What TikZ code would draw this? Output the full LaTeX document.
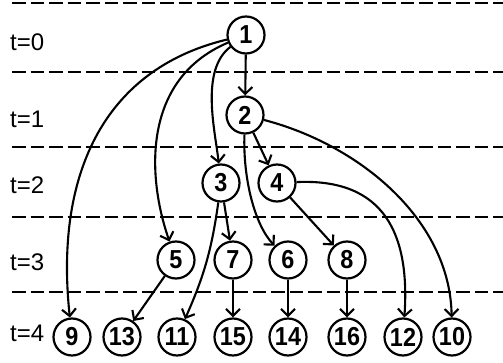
\documentclass[tikz,border=0pt]{standalone}
\usepackage{fontspec}
\setmainfont{Liberation Sans}
\newfontfamily\digitfont[FakeStretch=0.9]{Liberation Sans}
\usetikzlibrary{arrows.meta}
\tikzset{
  state/.style={circle, draw, line width=2.2pt, minimum size=37pt, inner sep=0.5pt,
    font=\digitfont\fontsize{26}{26}\selectfont\bfseries},
  edge/.style={-{Straight Barb[length=7pt,width=14pt]}, line width=2.1pt},
  timeline/.style={line width=2.2pt, dash pattern=on 13.5pt off 5pt},
  tlabel/.style={anchor=west, inner sep=0pt, font=\fontsize{24}{24}\selectfont},
}
\begin{document}
\begin{tikzpicture}[x=1pt, y=-1pt]
\useasboundingbox (0,0) rectangle (503,363);

% time boundaries
\foreach \yy in {3,72,147,217,292}
  \draw[timeline] (12,\yy) -- (503,\yy);

% time step labels
\node[tlabel] (t0) at (10,42) {t=0};
\node[tlabel] (t1) at (10,119) {t=1};
\node[tlabel] (t2) at (10,185) {t=2};
\node[tlabel] (t3) at (10,262) {t=3};
\node[tlabel] (t4) at (10,333) {t=4};

% states
\node[state] (n1) at (246,35) {1};
\node[state] (n2) at (245,115) {2};
\node[state] (n3) at (221,183) {3};
\node[state] (n4) at (277,183) {4};
\node[state] (n5) at (176,260) {5};
\node[state] (n7) at (233,260) {7};
\node[state] (n6) at (288,260) {6};
\node[state] (n8) at (347,260) {8};
\node[state] (n9) at (72,337) {9};
\node[state] (n13) at (122,337) {13};
\node[state] (n11) at (177,337) {11};
\node[state] (n15) at (233,337) {15};
\node[state] (n14) at (288,337) {14};
\node[state] (n16) at (347,337) {16};
\node[state] (n12) at (403,337) {12};
\node[state] (n10) at (452,337) {10};

% transitions
\draw[edge] (n1) -- (n2);
\draw[edge] (n1) .. controls (100,70) and (55,180) .. (n9);
\draw[edge] (n1) .. controls (140,80) and (148,180) .. (n5);
\draw[edge] (n1) .. controls (200,70) and (215,130) .. (n3);
\draw[edge] (n2) -- (n4);
\draw[edge] (n2) .. controls (243,180) and (255,225) .. (n6);
\draw[edge] (n2) .. controls (360,145) and (450,220) .. (n10);
\draw[edge] (n3) -- (n7);
\draw[edge] (n3) to[bend left=8] (n11);
\draw[edge] (n4) -- (n8);
\draw[edge] (n4) .. controls (385,178) and (410,235) .. (n12);
\draw[edge] (n5) -- (n13);
\draw[edge] (n7) -- (n15);
\draw[edge] (n6) -- (n14);
\draw[edge] (n8) -- (n16);
\end{tikzpicture}
\end{document}
